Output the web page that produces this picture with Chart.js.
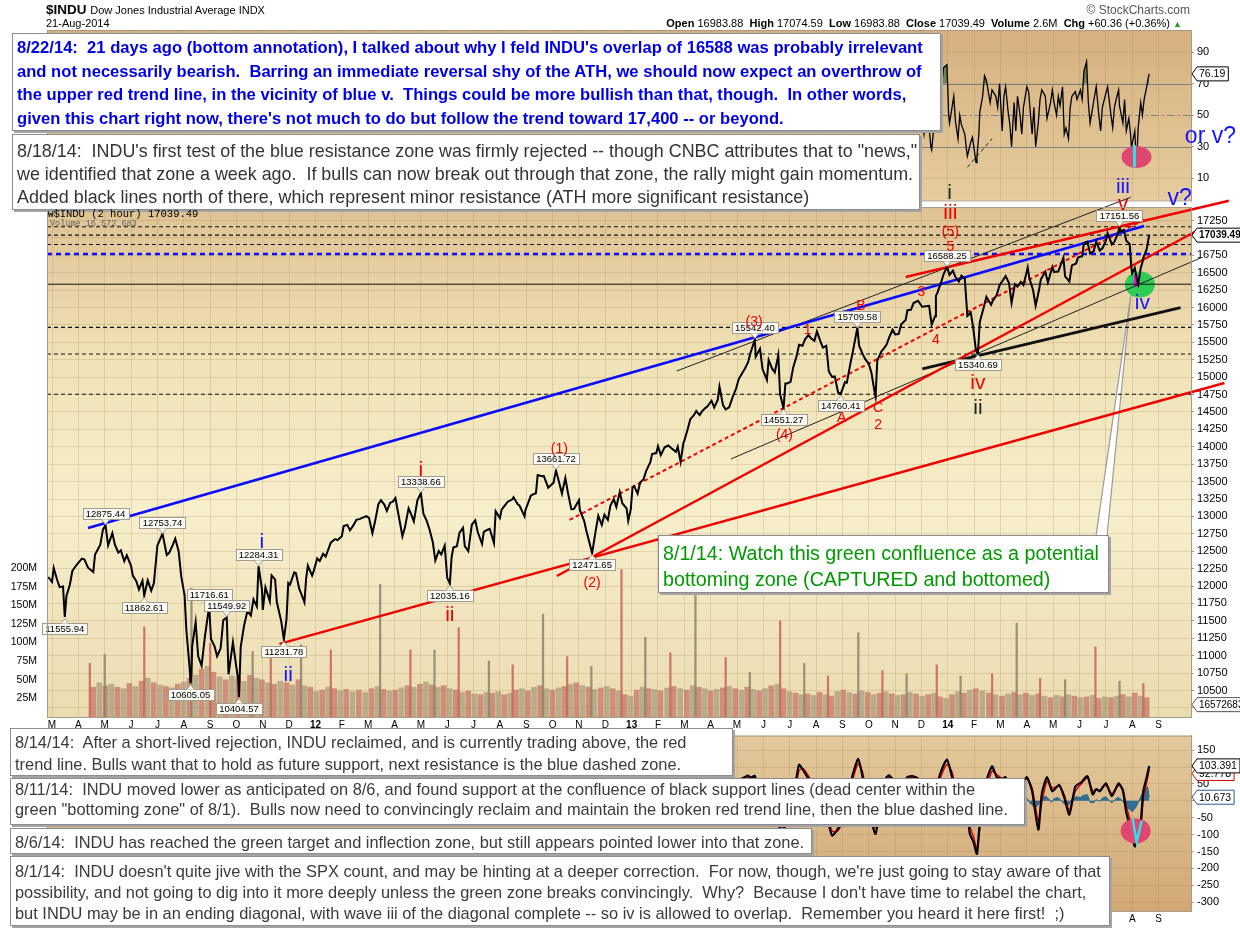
<!DOCTYPE html>
<html>
<head>
<meta charset="utf-8">
<title>$INDU Dow Jones Industrial Average</title>
<script src="https://cdn.jsdelivr.net/npm/chart.js@4.4.1/dist/chart.umd.min.js"></script>
<style>
html,body{margin:0;padding:0;background:#fff;}
body{width:1240px;height:928px;position:relative;overflow:hidden;font-family:"Liberation Sans",Arial,sans-serif;color:#000;}
canvas{position:absolute;left:0;}
#rsi{top:0;} #macd{top:726px;} #main{top:0;}
.t{position:absolute;white-space:pre;}
.box{position:absolute;background:#fff;border:1px solid #8c8c8c;box-shadow:2px 2px 0 #a4a4a4;white-space:pre;box-sizing:border-box;padding-left:4px;overflow:visible;}
.small{font-size:16.4px;color:#3a3a3a;}
</style>
</head>
<body>
<canvas id="rsi" width="1240" height="210"></canvas>
<canvas id="macd" width="1240" height="202"></canvas>
<canvas id="main" width="1240" height="740"></canvas>

<div class="t" style="left:46px;top:2px;font-size:13.5px;font-weight:bold;">$INDU <span style="font-size:11px;font-weight:normal;">Dow Jones Industrial Average INDX</span></div>
<div class="t" style="left:46px;top:17px;font-size:11px;">21-Aug-2014</div>
<div class="t" style="right:50px;top:3px;font-size:12px;color:#555;">© StockCharts.com</div>
<div class="t" style="right:58px;top:17px;font-size:11px;"><b>Open</b> 16983.88  <b>High</b> 17074.59  <b>Low</b> 16983.88  <b>Close</b> 17039.49  <b>Volume</b> 2.6M  <b>Chg</b> +60.36 (+0.36%) <span style="color:#2a9a2a;font-size:9px;">▲</span></div>

<div class="box" style="left:12px;top:33px;width:929px;height:98px;padding-top:2px;line-height:23.5px;font-size:16.6px;font-weight:bold;color:#0000e6;">8/22/14:  21 days ago (bottom annotation), I talked about why I feld INDU's overlap of 16588 was probably irrelevant
and not necessarily bearish.  Barring an immediate reversal shy of the ATH, we should now expect an overthrow of
the upper red trend line, in the vicinity of blue v.  Things could be more bullish than that, though.  In other words,
given this chart right now, there's not much to do but follow the trend toward 17,400 -- or beyond.</div>

<div class="box" style="left:12px;top:134px;width:908px;height:76px;padding-top:5px;line-height:23px;font-size:17.9px;color:#333;">8/18/14:  INDU's first test of the blue resistance zone was firmly rejected -- though CNBC attributes that to "news,"
we identified that zone a week ago.  If bulls can now break out through that zone, the rally might gain momentum.
Added black lines north of there, which represent minor resistance (ATH more significant resistance)</div>

<div class="t" style="left:48px;top:208px;font-family:'Liberation Mono',monospace;font-size:10.5px;"><span style="font-size:9px;">₩</span>$INDU (2 hour) 17039.49</div>
<div class="t" style="left:50px;top:219px;font-family:'Liberation Mono',monospace;font-size:8.5px;color:#666;">Volume 16,572,683</div>

<div class="box" style="left:658px;top:535px;width:451px;height:58px;padding-top:4px;line-height:26px;font-size:19.7px;color:#009a00;">8/1/14: Watch this green confluence as a potential
bottoming zone (CAPTURED and bottomed)</div>

<div class="box small" style="left:10px;top:728px;width:723px;height:48px;padding-top:2px;line-height:22px;">8/14/14:  After a short-lived rejection, INDU reclaimed, and is currently trading above, the red
trend line. Bulls want that to hold as future support, next resistance is the blue dashed zone.</div>

<div class="box small" style="left:10px;top:778px;width:1015px;height:47px;padding-top:0px;line-height:20px;">8/11/14:  INDU moved lower as anticipated on 8/6, and found support at the confluence of black support lines (dead center within the
green "bottoming zone" of 8/1).  Bulls now need to convincingly reclaim and maintain the broken red trend line, then the blue dashed line.</div>

<div class="box small" style="left:10px;top:828px;width:802px;height:26px;padding-top:3px;line-height:20px;">8/6/14:  INDU has reached the green target and inflection zone, but still appears pointed lower into that zone.</div>

<div class="box small" style="left:10px;top:856px;width:1100px;height:70px;padding-top:3.5px;line-height:21px;">8/1/14:  INDU doesn't quite jive with the SPX count, and may be hinting at a deeper correction.  For now, though, we're just going to stay aware of that
possibility, and not going to dig into it more deeply unless the green zone breaks convincingly.  Why?  Because I don't have time to relabel the chart,
but INDU may be in an ending diagonal, with wave iii of the diagonal complete -- so iv is allowed to overlap.  Remember you heard it here first!  ;)</div>

<script>
// ---------------- DATA ----------------
const monthLetters = ['J','F','M','A','M','J','J','A','S','O','N','D'];
const yearLabels = ['11','12','13','14'];
const priceTicks = [10250,10500,10750,11000,11250,11500,11750,12000,12250,12500,12750,13000,13250,13500,13750,14000,14250,14500,14750,15000,15250,15500,15750,16000,16250,16500,16750,17000,17250];
const volumeTicks = [25,50,75,100,125,150,175,200];
const rsiTicks = [10,30,50,70,90];
const macdTicks = [-300,-250,-200,-150,-100,-50,0,50,100,150];

// Dow Jones 2-hour chart (date, price)
const priceSeries = [
['2011-02-25',12130],['2011-03-01',12058],['2011-03-03',12258],['2011-03-07',12090],['2011-03-10',11984],['2011-03-14',11993],['2011-03-16',11556],['2011-03-18',11858],['2011-03-22',12018],['2011-03-25',12220],['2011-03-31',12320],
['2011-04-05',12393],['2011-04-08',12380],['2011-04-12',12263],['2011-04-18',12201],['2011-04-20',12453],['2011-04-26',12595],['2011-04-29',12810],
['2011-05-02',12876],['2011-05-05',12584],['2011-05-10',12760],['2011-05-13',12595],['2011-05-17',12479],['2011-05-20',12512],['2011-05-24',12356],['2011-05-27',12441],
['2011-06-01',12290],['2011-06-03',12151],['2011-06-07',12070],['2011-06-10',11951],['2011-06-14',12076],['2011-06-16',11863],['2011-06-20',12080],['2011-06-24',11934],['2011-06-27',12043],
['2011-07-01',12582],['2011-07-07',12754],['2011-07-12',12446],['2011-07-15',12480],['2011-07-19',12587],['2011-07-22',12681],['2011-07-26',12501],['2011-07-29',12143],
['2011-08-02',11866],['2011-08-04',11383],['2011-08-08',10810],['2011-08-09',10605],['2011-08-10',10719],['2011-08-11',11143],['2011-08-15',11482],['2011-08-18',10990],['2011-08-22',10855],['2011-08-26',11284],['2011-08-31',11717],
['2011-09-02',11240],['2011-09-06',11139],['2011-09-09',10992],['2011-09-13',11105],['2011-09-16',11509],['2011-09-20',11550],['2011-09-22',10733],['2011-09-27',11190],['2011-09-30',10913],
['2011-10-03',10655],['2011-10-04',10405],['2011-10-06',11123],['2011-10-10',11434],['2011-10-14',11644],['2011-10-18',11577],['2011-10-21',11808],['2011-10-25',11706],['2011-10-27',12284],['2011-10-31',11955],
['2011-11-01',11658],['2011-11-04',11983],['2011-11-09',11780],['2011-11-11',12153],['2011-11-15',12096],['2011-11-17',11770],['2011-11-22',11493],['2011-11-25',11232],['2011-11-28',11523],['2011-11-30',12045],
['2011-12-02',12019],['2011-12-07',12196],['2011-12-09',12184],['2011-12-13',11955],['2011-12-16',11866],['2011-12-19',11766],['2011-12-21',12107],['2011-12-23',12294],['2011-12-28',12151],['2011-12-30',12218],
['2012-01-03',12397],['2012-01-06',12360],['2012-01-10',12462],['2012-01-13',12422],['2012-01-19',12623],['2012-01-24',12675],['2012-01-27',12660],
['2012-02-01',12716],['2012-02-03',12862],['2012-02-07',12878],['2012-02-10',12801],['2012-02-14',12878],['2012-02-17',12950],['2012-02-21',12965],['2012-02-28',13005],
['2012-03-02',12978],['2012-03-06',12759],['2012-03-09',12922],['2012-03-13',13177],['2012-03-16',13232],['2012-03-20',13170],['2012-03-23',13080],['2012-03-27',13197],['2012-03-30',13212],
['2012-04-02',13264],['2012-04-05',13060],['2012-04-10',12715],['2012-04-13',12850],['2012-04-17',13115],['2012-04-20',13029],['2012-04-23',12928],['2012-04-27',13228],
['2012-05-01',13339],['2012-05-04',13038],['2012-05-08',12932],['2012-05-11',12820],['2012-05-15',12632],['2012-05-18',12369],['2012-05-22',12502],['2012-05-25',12454],['2012-05-29',12580],
['2012-06-01',12118],['2012-06-04',12035],['2012-06-06',12414],['2012-06-08',12554],['2012-06-12',12573],['2012-06-15',12767],['2012-06-19',12837],['2012-06-21',12574],['2012-06-25',12502],['2012-06-29',12880],
['2012-07-03',12943],['2012-07-06',12772],['2012-07-11',12605],['2012-07-13',12777],['2012-07-17',12805],['2012-07-20',12822],['2012-07-25',12617],['2012-07-27',13075],
['2012-08-01',12976],['2012-08-03',13096],['2012-08-08',13175],['2012-08-10',13207],['2012-08-16',13250],['2012-08-17',13275],['2012-08-22',13173],['2012-08-24',13157],['2012-08-30',13001],['2012-08-31',13090],
['2012-09-06',13292],['2012-09-07',13306],['2012-09-12',13333],['2012-09-14',13593],['2012-09-19',13577],['2012-09-21',13579],['2012-09-26',13413],['2012-09-28',13437],
['2012-10-02',13482],['2012-10-05',13662],['2012-10-09',13474],['2012-10-12',13328],['2012-10-16',13551],['2012-10-19',13343],['2012-10-23',13103],['2012-10-26',13107],
['2012-11-01',13232],['2012-11-02',13093],['2012-11-07',12932],['2012-11-09',12815],['2012-11-14',12570],['2012-11-16',12472],['2012-11-20',12788],['2012-11-23',13010],['2012-11-27',12878],['2012-11-30',13025],
['2012-12-04',12951],['2012-12-07',13155],['2012-12-11',13248],['2012-12-14',13135],['2012-12-18',13350],['2012-12-21',13190],['2012-12-26',13114],['2012-12-28',12938],['2012-12-31',13104],
['2013-01-02',13412],['2013-01-04',13435],['2013-01-08',13328],['2013-01-11',13488],['2013-01-15',13534],['2013-01-18',13650],['2013-01-23',13779],['2013-01-25',13895],['2013-01-30',13910],
['2013-02-01',14009],['2013-02-04',13880],['2013-02-08',13992],['2013-02-12',14018],['2013-02-15',13981],['2013-02-20',13927],['2013-02-22',14000],['2013-02-25',13784],['2013-02-28',14054],
['2013-03-01',14089],['2013-03-05',14254],['2013-03-08',14397],['2013-03-12',14450],['2013-03-15',14514],['2013-03-19',14455],['2013-03-22',14512],['2013-03-26',14559],['2013-03-28',14578],
['2013-04-02',14662],['2013-04-05',14565],['2013-04-09',14673],['2013-04-11',14865],['2013-04-15',14599],['2013-04-18',14537],['2013-04-22',14567],['2013-04-26',14712],['2013-04-30',14840],
['2013-05-03',14973],['2013-05-07',15056],['2013-05-10',15118],['2013-05-14',15215],['2013-05-17',15354],['2013-05-22',15542],['2013-05-23',15294],['2013-05-28',15409],['2013-05-31',15116],
['2013-06-05',14960],['2013-06-07',15248],['2013-06-11',15122],['2013-06-14',15070],['2013-06-18',15318],['2013-06-20',14758],['2013-06-24',14551],['2013-06-26',14910],['2013-06-28',14910],
['2013-07-02',14932],['2013-07-05',15136],['2013-07-09',15300],['2013-07-12',15464],['2013-07-16',15451],['2013-07-19',15543],['2013-07-23',15604],['2013-07-26',15559],['2013-07-30',15521],
['2013-08-02',15658],['2013-08-06',15518],['2013-08-09',15425],['2013-08-13',15451],['2013-08-16',15081],['2013-08-20',15002],['2013-08-23',15010],['2013-08-27',14776],['2013-08-30',14760],
['2013-09-04',14930],['2013-09-06',14922],['2013-09-10',15191],['2013-09-13',15376],['2013-09-18',15710],['2013-09-20',15452],['2013-09-24',15334],['2013-09-27',15258],
['2013-10-01',15191],['2013-10-04',15072],['2013-10-08',14776],['2013-10-09',14719],['2013-10-11',15237],['2013-10-16',15374],['2013-10-18',15399],['2013-10-22',15468],['2013-10-25',15570],['2013-10-29',15680],
['2013-11-01',15615],['2013-11-05',15618],['2013-11-08',15761],['2013-11-13',15821],['2013-11-15',15961],['2013-11-19',15967],['2013-11-22',16064],['2013-11-27',16097],
['2013-12-02',16008],['2013-12-06',16020],['2013-12-10',16025],['2013-12-13',15755],['2013-12-17',15875],['2013-12-18',16167],['2013-12-20',16221],['2013-12-24',16357],['2013-12-27',16478],['2013-12-31',16588],
['2014-01-03',16469],['2014-01-07',16530],['2014-01-10',16437],['2014-01-14',16374],['2014-01-17',16458],['2014-01-21',16414],['2014-01-24',15879],['2014-01-28',15929],['2014-01-31',15698],
['2014-02-03',15372],['2014-02-05',15341],['2014-02-07',15794],['2014-02-11',15994],['2014-02-14',16154],['2014-02-19',16040],['2014-02-21',16103],['2014-02-25',16179],['2014-02-28',16321],
['2014-03-04',16395],['2014-03-07',16452],['2014-03-11',16351],['2014-03-14',16065],['2014-03-18',16336],['2014-03-21',16302],['2014-03-25',16368],['2014-03-28',16323],
['2014-04-02',16573],['2014-04-04',16412],['2014-04-08',16256],['2014-04-11',16027],['2014-04-15',16262],['2014-04-17',16408],['2014-04-22',16514],['2014-04-25',16361],['2014-04-30',16581],
['2014-05-02',16512],['2014-05-07',16518],['2014-05-09',16583],['2014-05-13',16715],['2014-05-15',16447],['2014-05-20',16374],['2014-05-23',16606],['2014-05-28',16633],['2014-05-30',16717],
['2014-06-04',16737],['2014-06-06',16924],['2014-06-10',16946],['2014-06-13',16776],['2014-06-17',16808],['2014-06-20',16947],['2014-06-24',16818],['2014-06-27',16851],
['2014-07-01',16956],['2014-07-03',17068],['2014-07-08',16906],['2014-07-11',16944],['2014-07-15',17060],['2014-07-17',17152],['2014-07-18',17100],['2014-07-22',17113],['2014-07-25',16960],['2014-07-29',16912],['2014-07-31',16563],
['2014-08-01',16493],['2014-08-04',16569],['2014-08-07',16368],['2014-08-08',16333],['2014-08-11',16570],['2014-08-13',16651],['2014-08-14',16713],['2014-08-18',16839],['2014-08-20',16979],['2014-08-21',17039.49]
];

// Labelled extremes (date, value, kind)
const priceTags = [
['2011-03-16',11555.94,'low'],['2011-05-02',12875.44,'high'],['2011-06-16',11862.61,'low'],['2011-07-07',12753.74,'high'],
['2011-08-09',10605.05,'low'],['2011-08-31',11716.61,'high'],['2011-09-20',11549.92,'high'],['2011-10-04',10404.57,'low'],
['2011-10-27',12284.31,'high'],['2011-11-25',11231.78,'low'],['2012-05-01',13338.66,'high'],['2012-06-04',12035.16,'low'],
['2012-10-05',13661.72,'high'],['2012-11-16',12471.65,'low'],['2013-05-22',15542.40,'high'],['2013-06-24',14551.27,'low'],
['2013-09-18',15709.58,'high'],['2013-08-30',14760.41,'low'],['2013-12-31',16588.25,'high'],['2014-02-05',15340.69,'low'],
['2014-07-17',17151.56,'high']
];

// Wave count labels (text, date, value, colour key, size key)
const waveLabels = [
['i','2011-10-31',12633,'blue','L'],['ii','2011-11-30',10723,'blue','L'],
['i','2012-05-01',13667,'red','L'],['ii','2012-06-04',11584,'red','L'],
['(1)','2012-10-09',13968,'red','S'],['(2)','2012-11-16',12044,'red','S'],
['(3)','2013-05-21',15792,'red','S'],['(4)','2013-06-25',14170,'red','S'],
['1','2013-07-22',15677,'red','S'],['A','2013-08-31',14414,'red','S'],['B','2013-09-22',16022,'red','S'],
['C','2013-10-12',14557,'red','S'],['2','2013-10-12',14313,'red','S'],
['3','2013-12-01',16223,'red','S'],['4','2013-12-18',15534,'red','S'],
['5','2014-01-04',16869,'red','S'],['(5)','2014-01-04',17085,'red','S'],['iii','2014-01-04',17358,'red','L'],['i','2014-01-03',17645,'black','L'],
['iv','2014-02-05',14916,'red','L'],['ii','2014-02-05',14557,'black','L'],
['iii','2014-07-21',17731,'blue','L'],['v','2014-07-21',17487,'red','L'],['iv','2014-08-13',16065,'blue','L'],
['v?','2014-09-25',17558,'blue','XL'],['or v?','2014-10-31',18449,'blue','XL']
];

// Trend lines (endpoints)
const blueTrend = [['2011-04-12',12834],['2014-08-15',17171]];
const redTrendLow = [['2011-11-20',11168],['2014-11-16',14916]];
const redTrendMid = [['2012-10-06',12144],['2014-10-21',17143]];
const redTrendUpper = [['2013-11-13',16439],['2014-11-21',17534]];
const redDashedTrend = [['2012-10-21',12950],['2014-08-16',17270]];
const blackThinUpper = [['2013-02-21',15089],['2014-07-30',17583]];
const blackThinLower = [['2013-04-24',13825],['2014-10-21',16720]];
const blackThick = [['2013-12-02',15118],['2014-09-26',15999]];
const dashedLevels = [17160,17040,16905,15715,15333,14755];
const blueDashedLevel = 16770;
const solidLevel = 16335;
const greenZone = ['2014-08-10',16330];

// Volume (millions, weekly from 2011-04-15)
const volumeStart = '2011-04-15';
const volumeM = [
40,46,42,44,40,38,45,41,48,52,46,43,41,39,44,47,52,56,64,68,60,54,50,55,52,48,56,52,50,46,44,48,46,43,50,42,40,34,
36,40,38,35,37,34,36,33,38,41,37,35,36,39,42,40,44,47,43,40,42,38,36,33,35,31,30,33,32,34,30,32,36,38,35,40,42,38,36,39,41,44,46,42,40,37,39,41,38,35,30,28,
36,40,38,37,35,39,41,38,36,42,40,38,35,37,39,41,38,36,40,37,35,38,42,44,38,34,32,30,31,29,33,30,28,34,36,33,31,35,33,30,32,34,31,29,30,33,31,28,30,32,27,25,
30,34,32,36,38,35,32,30,28,31,33,30,32,29,31,28,26,29,27,30,28,26,27,29,25,27,26,28,30,27,32,28,26
];
const volumeSpikes = [
['2011-04-15',72],['2011-05-02',84],['2011-06-17',121],['2011-08-11',173],['2011-09-02',99],['2011-10-21',88],['2011-11-11',80],['2011-12-16',97],
['2012-01-20',90],['2012-03-16',178],['2012-04-20',90],['2012-05-18',90],['2012-06-15',120],['2012-07-20',75],['2012-08-17',70],['2012-09-21',138],['2012-10-19',81],['2012-11-16',68],['2012-12-21',198],
['2013-01-18',107],['2013-02-15',86],['2013-03-15',171],['2013-04-19',80],['2013-05-17',60],['2013-06-21',129],['2013-07-19',72],['2013-08-16',55],['2013-09-20',113],['2013-10-18',62],['2013-11-15',58],['2013-12-20',70],
['2014-01-17',55],['2014-02-21',58],['2014-03-21',126],['2014-04-17',52],['2014-05-16',50],['2014-06-20',94],['2014-07-18',48],['2014-08-15',45]
];
const lastVolume = 16572683;
const lastClose = 17039.49;

// RSI(14)
const rsiSeries = [
['2013-11-25',55],['2013-11-27',62],['2013-12-02',45],['2013-12-04',38],['2013-12-06',50],['2013-12-10',42],['2013-12-12',30],['2013-12-13',28],['2013-12-16',45],['2013-12-18',62],['2013-12-20',72],['2013-12-23',65],['2013-12-26',75],['2013-12-27',80],['2013-12-31',82],
['2014-01-02',50],['2014-01-03',45],['2014-01-06',55],['2014-01-08',62],['2014-01-10',46],['2014-01-13',35],['2014-01-15',50],['2014-01-17',44],['2014-01-21',38],['2014-01-23',28],['2014-01-24',24],['2014-01-28',33],['2014-01-30',36],
['2014-02-03',20],['2014-02-04',24],['2014-02-06',38],['2014-02-07',52],['2014-02-10',62],['2014-02-12',75],['2014-02-14',72],['2014-02-18',58],['2014-02-20',66],['2014-02-24',62],['2014-02-26',55],['2014-02-28',70],
['2014-03-03',40],['2014-03-05',62],['2014-03-07',68],['2014-03-10',52],['2014-03-12',44],['2014-03-14',30],['2014-03-17',58],['2014-03-19',40],['2014-03-21',62],['2014-03-24',50],['2014-03-26',38],['2014-03-28',55],
['2014-04-01',68],['2014-04-03',65],['2014-04-07',38],['2014-04-09',55],['2014-04-11',30],['2014-04-14',45],['2014-04-16',60],['2014-04-18',66],['2014-04-22',62],['2014-04-24',48],['2014-04-28',58],['2014-04-30',66],
['2014-05-02',58],['2014-05-05',50],['2014-05-07',62],['2014-05-09',56],['2014-05-12',68],['2014-05-14',38],['2014-05-16',42],['2014-05-19',35],['2014-05-21',55],['2014-05-23',62],['2014-05-27',65],['2014-05-29',60],
['2014-06-02',66],['2014-06-04',60],['2014-06-06',78],['2014-06-09',84],['2014-06-11',58],['2014-06-13',45],['2014-06-16',55],['2014-06-18',62],['2014-06-20',68],['2014-06-23',50],['2014-06-25',40],['2014-06-27',55],
['2014-07-01',64],['2014-07-03',68],['2014-07-07',50],['2014-07-09',42],['2014-07-11',55],['2014-07-14',62],['2014-07-16',66],['2014-07-17',56],['2014-07-21',45],['2014-07-23',60],['2014-07-25',40],['2014-07-28',48],['2014-07-30',38],['2014-07-31',30],
['2014-08-01',32],['2014-08-04',40],['2014-08-05',28],['2014-08-07',30],['2014-08-08',42],['2014-08-11',58],['2014-08-13',50],['2014-08-15',60],['2014-08-18',68],['2014-08-20',74],['2014-08-21',76.19]
];
const rsiTrend = [['2014-01-24',17],['2014-02-20',35]];
const rsiLevels = [70,50,30];
const rsiMark = ['2014-08-06',23.5];
const lastRsi = 76.19;

// MACD panel
const macdSeries = [
['2013-04-19',20],['2013-04-26',45],['2013-05-03',62],['2013-05-10',70],['2013-05-14',75],['2013-05-17',68],['2013-05-22',74],['2013-05-24',40],['2013-05-31',-10],
['2013-06-07',-30],['2013-06-11',-55],['2013-06-14',-60],['2013-06-20',-80],['2013-06-24',-88],['2013-06-28',-40],['2013-07-03',20],['2013-07-09',70],['2013-07-12',107],
['2013-07-17',90],['2013-07-22',70],['2013-07-26',55],['2013-08-02',60],['2013-08-07',10],['2013-08-13',-30],['2013-08-16',-70],['2013-08-20',-103],['2013-08-26',-85],
['2013-08-30',-70],['2013-09-05',-20],['2013-09-10',45],['2013-09-13',80],['2013-09-19',124],['2013-09-24',70],['2013-09-27',20],['2013-10-02',-40],['2013-10-09',-98],
['2013-10-14',-20],['2013-10-17',40],['2013-10-22',70],['2013-10-25',75],['2013-10-30',60],['2013-11-05',35],['2013-11-11',55],['2013-11-15',70],['2013-11-21',73],
['2013-11-27',65],['2013-12-03',30],['2013-12-09',15],['2013-12-13',-20],['2013-12-18',30],['2013-12-23',80],['2013-12-31',122],['2014-01-06',70],['2014-01-10',30],
['2014-01-15',20],['2014-01-22',-10],['2014-01-27',-98],['2014-01-31',-120],['2014-02-04',-157],['2014-02-07',-60],['2014-02-12',40],['2014-02-20',102],['2014-02-25',70],
['2014-03-03',65],['2014-03-07',70],['2014-03-14',-10],['2014-03-19',60],['2014-03-24',45],['2014-04-01',70],['2014-04-07',28],['2014-04-14',-86],['2014-04-18',20],
['2014-04-24',70],['2014-04-30',28],['2014-05-08',47],['2014-05-14',10],['2014-05-20',-41],['2014-05-27',42],['2014-06-03',55],['2014-06-10',73],['2014-06-16',19],
['2014-06-20',35],['2014-06-24',28],['2014-07-01',52],['2014-07-08',14],['2014-07-16',52],['2014-07-21',30],['2014-07-25',-35],['2014-07-31',-90],['2014-08-04',-135],
['2014-08-07',-110],['2014-08-11',-63],['2014-08-14',28],['2014-08-18',70],['2014-08-21',103.391]
];
const signalSeries = [
['2013-04-19',10],['2013-04-26',30],['2013-05-03',50],['2013-05-10',62],['2013-05-14',70],['2013-05-17',70],['2013-05-22',70],['2013-05-24',55],['2013-05-31',15],
['2013-06-07',-15],['2013-06-11',-40],['2013-06-14',-52],['2013-06-20',-70],['2013-06-24',-80],['2013-06-28',-60],['2013-07-03',-5],['2013-07-09',50],['2013-07-12',90],
['2013-07-17',95],['2013-07-22',78],['2013-07-26',62],['2013-08-02',58],['2013-08-07',25],['2013-08-13',-15],['2013-08-16',-55],['2013-08-20',-90],['2013-08-26',-90],
['2013-08-30',-75],['2013-09-05',-35],['2013-09-10',25],['2013-09-13',65],['2013-09-19',110],['2013-09-24',85],['2013-09-27',40],['2013-10-02',-20],['2013-10-09',-80],
['2013-10-14',-45],['2013-10-17',20],['2013-10-22',58],['2013-10-25',70],['2013-10-30',65],['2013-11-05',45],['2013-11-11',50],['2013-11-15',64],['2013-11-21',70],
['2013-11-27',68],['2013-12-03',42],['2013-12-09',22],['2013-12-13',-5],['2013-12-18',15],['2013-12-23',65],['2013-12-31',108],['2014-01-06',85],['2014-01-10',45],
['2014-01-15',25],['2014-01-22',0],['2014-01-27',-75],['2014-01-31',-105],['2014-02-04',-140],['2014-02-07',-85],['2014-02-12',15],['2014-02-20',88],['2014-02-25',78],
['2014-03-03',66],['2014-03-07',68],['2014-03-14',10],['2014-03-19',45],['2014-03-24',48],['2014-04-01',64],['2014-04-07',38],['2014-04-14',-60],['2014-04-18',-5],
['2014-04-24',58],['2014-04-30',38],['2014-05-08',44],['2014-05-14',18],['2014-05-20',-28],['2014-05-27',28],['2014-06-03',50],['2014-06-10',68],['2014-06-16',30],
['2014-06-20',32],['2014-06-24',30],['2014-07-01',46],['2014-07-08',22],['2014-07-16',45],['2014-07-21',35],['2014-07-25',-15],['2014-07-31',-70],['2014-08-04',-120],
['2014-08-07',-115],['2014-08-11',-80],['2014-08-14',5],['2014-08-18',55],['2014-08-21',92.778]
];
const histSeries = [
['2014-03-24',5],['2014-03-28',12],['2014-04-01',8],['2014-04-04',-5],['2014-04-08',-15],['2014-04-11',-20],['2014-04-15',-8],['2014-04-18',6],['2014-04-22',14],['2014-04-25',8],
['2014-04-29',-4],['2014-05-02',6],['2014-05-06',10],['2014-05-09',4],['2014-05-13',-6],['2014-05-16',-14],['2014-05-20',-10],['2014-05-23',6],['2014-05-28',12],['2014-06-02',10],
['2014-06-05',16],['2014-06-10',18],['2014-06-13',-4],['2014-06-17',-6],['2014-06-20',4],['2014-06-24',-2],['2014-06-27',8],['2014-07-01',12],['2014-07-04',4],['2014-07-08',-6],
['2014-07-11',2],['2014-07-15',10],['2014-07-18',6],['2014-07-22',-4],['2014-07-25',-18],['2014-07-29',-25],['2014-08-01',-32],['2014-08-05',-20],['2014-08-08',-5],['2014-08-12',18],
['2014-08-15',32],['2014-08-19',42],['2014-08-21',10.673]
];
const macdMark = ['2014-08-05',-89];
const lastMacd = 103.391, lastSignal = 92.778, lastHist = 10.673;

// ---------------- HELPERS ----------------
const FONT = '"Liberation Sans", Arial, sans-serif';
Chart.defaults.font.family = FONT;
const X_MIN = 1.81, X_MAX = 45.23;
function toT(s){ const p=s.split('-').map(Number); const dim=new Date(p[0],p[1],0).getDate(); return (p[0]-2011)*12+(p[1]-1)+(p[2]-1)/dim; }
function pts(arr){ return arr.map(a=>({x:toT(a[0]), y:a[1]})); }
function monthLabel(v){ const i=Math.round(v); if(i%12===0) return yearLabels[i/12]; return monthLetters[((i%12)+12)%12]; }
const monthTicks = []; for(let m=2;m<=44;m++) monthTicks.push(m);
const GRID = 'rgba(150,120,70,0.20)';
const RED='#f00000', BLUE='#0a0aff';
const waveColors = {red:'#f00000', blue:'#1414ff', black:'#222'};
const waveSizes = {S:14, L:21, XL:23};

function xScaleCfg(showTicks, h){
  return {type:'linear', min:X_MIN, max:X_MAX, offset:false, position:'bottom',
    afterBuildTicks:s=>{ s.ticks = monthTicks.map(v=>({value:v})); },
    afterFit:s=>{ s.height=h; },
    ticks:{display:showTicks, autoSkip:false, maxRotation:0, minRotation:0, padding:2, color:'#000',
      font:c=>({family:FONT, size:10, weight:(c.tick && Math.round(c.tick.value)%12===0)?'bold':'normal'}),
      callback:v=>monthLabel(v)},
    grid:{color:GRID, drawTicks:false, offset:false}, border:{display:false}};
}
function lineDS(data, color, width, dash, order, clip){
  return {type:'line', data:pts(data), borderColor:color, borderWidth:width, borderDash:dash||[], pointRadius:0, tension:0, fill:false, order:order, clip:clip===undefined?false:clip};
}
function hLine(v, color, width, dash, order){
  return {type:'line', data:[{x:X_MIN,y:v},{x:X_MAX,y:v}], borderColor:color, borderWidth:width, borderDash:dash||[], pointRadius:0, fill:false, order:order};
}
function valueBox(ctx, x, y, text, border, bold, size){
  ctx.save();
  ctx.font=(bold?'bold ':'')+(size||10.5)+'px '+FONT;
  const w=ctx.measureText(text).width+5, h=14;
  ctx.beginPath(); ctx.moveTo(x,y); ctx.lineTo(x+5,y-h/2); ctx.lineTo(x+5+w,y-h/2); ctx.lineTo(x+5+w,y+h/2); ctx.lineTo(x+5,y+h/2); ctx.closePath();
  ctx.fillStyle='#fff'; ctx.fill(); ctx.lineWidth=1; ctx.strokeStyle=border; ctx.stroke();
  ctx.fillStyle='#000'; ctx.textAlign='left'; ctx.textBaseline='middle'; ctx.fillText(text, x+7, y+0.5);
  ctx.restore();
}
function panelBG(chart, stops){
  const {ctx, chartArea:a}=chart;
  const g=ctx.createLinearGradient(0,a.top,0,a.bottom);
  stops.forEach(s=>g.addColorStop(s[0],s[1]));
  ctx.save(); ctx.fillStyle=g; ctx.fillRect(a.left,a.top,a.right-a.left,a.bottom-a.top); ctx.restore();
}
function panelBorder(chart){
  const {ctx, chartArea:a}=chart;
  ctx.save(); ctx.strokeStyle='#a89a86'; ctx.lineWidth=1; ctx.strokeRect(a.left+0.5,a.top+0.5,a.right-a.left,a.bottom-a.top); ctx.restore();
}

// ---------------- MAIN PRICE PANEL ----------------
const volData = volumeM.map((v,i)=>{ const d=new Date(volumeStart+'T12:00:00'); d.setDate(d.getDate()+7*i); const s=d.getFullYear()+'-'+String(d.getMonth()+1).padStart(2,'0')+'-'+String(d.getDate()).padStart(2,'0'); return {x:toT(s), y:v}; });

const mainDeco = {
  id:'mainDeco',
  beforeDraw(chart){ panelBG(chart, [[0,'#dec294'],[0.3,'#f0e2b6'],[0.6,'#f7eecb'],[1,'#ebdbb0']]); },
  beforeDatasetsDraw(chart){
    const {ctx, scales:{x,y}}=chart;
    const cx=x.getPixelForValue(toT(greenZone[0])), cy=y.getPixelForValue(greenZone[1]);
    ctx.save();
    ctx.beginPath(); ctx.moveTo(1096,536); ctx.lineTo(1107,536); ctx.lineTo(cx-9,cy+10); ctx.closePath();
    ctx.fillStyle='#fff'; ctx.fill(); ctx.strokeStyle='#9a9a9a'; ctx.lineWidth=1.2; ctx.stroke();
    ctx.beginPath(); ctx.ellipse(cx,cy,15,13,0,0,Math.PI*2); ctx.fillStyle='rgb(45,205,85)'; ctx.fill();
    ctx.fillStyle='#ff00ff'; ctx.fillRect(cx-6,cy-10,4,12);
    ctx.restore();
  },
  afterDatasetsDraw(chart){
    const {ctx, scales:{x,y}}=chart;
    ctx.save();
    priceTags.forEach(p=>{
      const px=x.getPixelForValue(toT(p[0])), py=y.getPixelForValue(p[1]);
      const hi=p[2]==='high', text=p[1].toFixed(2);
      ctx.font='9.5px '+FONT;
      const w=Math.round(ctx.measureText(text).width)+6, h=11;
      const top=hi? py-6-h : py+6;
      const l=Math.round(px-w/2)+0.5, t=Math.round(top)+0.5;
      ctx.fillStyle='#fbfaf3'; ctx.strokeStyle='#a39b8f'; ctx.lineWidth=1;
      ctx.fillRect(l,t,w,h); ctx.strokeRect(l,t,w,h);
      ctx.beginPath();
      if(hi){ ctx.moveTo(px-4,t+h); ctx.lineTo(px,t+h+5); ctx.lineTo(px+4,t+h); }
      else { ctx.moveTo(px-4,t); ctx.lineTo(px,t-5); ctx.lineTo(px+4,t); }
      ctx.fillStyle='#fbfaf3'; ctx.fill(); ctx.stroke();
      ctx.fillStyle='#000'; ctx.textAlign='center'; ctx.textBaseline='middle';
      ctx.fillText(text, px, t+h/2+0.5);
    });
    waveLabels.forEach(w=>{
      ctx.font=waveSizes[w[4]]+'px '+FONT;
      ctx.fillStyle=waveColors[w[3]]; ctx.textAlign='center'; ctx.textBaseline='middle';
      ctx.fillText(w[0], x.getPixelForValue(toT(w[1])), y.getPixelForValue(w[2]));
    });
    ctx.restore();
  },
  afterDraw(chart){
    panelBorder(chart);
    const {ctx, chartArea:a, scales:{y, yv}}=chart;
    valueBox(ctx, a.right+1, y.getPixelForValue(lastClose), lastClose.toFixed(2), '#000', true, 10);
    valueBox(ctx, a.right+1, yv.getPixelForValue(lastVolume/1e6), String(lastVolume), '#555', false, 10);
  }
};

const volMax = 200*510/149;
new Chart(document.getElementById('main'), {
  type:'line',
  data:{datasets:[
    {type:'bar', yAxisID:'yv', data:volData, barThickness:5, backgroundColor:c=>c.dataIndex%2?'rgba(150,140,112,0.6)':'rgba(190,96,84,0.62)', order:20},
    {type:'bar', yAxisID:'yv', data:pts(volumeSpikes), barThickness:1.6, backgroundColor:c=>c.dataIndex%2?'rgba(140,130,110,0.85)':'rgba(200,100,90,0.85)', order:19},
    ...dashedLevels.map(v=>hLine(v,'#111',1.1,[4,3],15)),
    hLine(blueDashedLevel, BLUE, 2.5, [5,4], 14),
    hLine(solidLevel, '#111', 1, [], 14),
    lineDS(blueTrend, BLUE, 2.6, [], 12),
    lineDS(redTrendLow, RED, 2.4, [], 12),
    lineDS(redTrendMid, RED, 2.4, [], 12),
    lineDS(redTrendUpper, RED, 2.4, [], 12),
    lineDS(redDashedTrend, RED, 2, [4,3], 12),
    lineDS(blackThinUpper, '#222', 1, [], 12),
    lineDS(blackThinLower, '#222', 1, [], 12),
    lineDS(blackThick, '#111', 2.8, [], 12),
    {type:'line', data:pts(priceSeries), borderColor:'#000', borderWidth:2, pointRadius:0, tension:0, fill:false, order:1}
  ]},
  options:{
    responsive:false, animation:false, events:[],
    layout:{padding:{top:207,bottom:8,left:0,right:0}},
    plugins:{legend:{display:false}, tooltip:{enabled:false}},
    scales:{
      x:xScaleCfg(true,15),
      y:{position:'right', min:10119, max:17444,
        afterBuildTicks:s=>{ s.ticks=priceTicks.map(v=>({value:v})); },
        afterFit:s=>{ s.width=49; },
        ticks:{color:'#000', font:{size:11}, padding:3, callback:v=>String(v)},
        grid:{color:GRID, tickLength:3, tickColor:'#a89a86'}, border:{color:'#a89a86'}},
      yv:{position:'left', min:0, max:volMax,
        afterBuildTicks:s=>{ s.ticks=volumeTicks.map(v=>({value:v})); },
        afterFit:s=>{ s.width=47; },
        ticks:{color:'#000', font:{size:10.5}, padding:2, callback:v=>v+'M'},
        grid:{display:false, drawOnChartArea:false}, border:{display:false}}
    }
  },
  plugins:[mainDeco]
});

// ---------------- RSI PANEL ----------------
const rsiDeco = {
  id:'rsiDeco',
  beforeDraw(chart){ panelBG(chart, [[0,'#d5b080'],[1,'#e6cc9e']]); },
  beforeDatasetsDraw(chart){
    const {ctx, chartArea:a, scales:{y}}=chart;
    ctx.save();
    rsiLevels.forEach(l=>{
      const py=Math.round(y.getPixelForValue(l))+0.5;
      ctx.beginPath(); ctx.moveTo(a.left,py); ctx.lineTo(a.right,py);
      ctx.strokeStyle='#7f7f7f'; ctx.lineWidth=1; ctx.setLineDash(l===50?[8,3,2,3]:[]); ctx.stroke();
    });
    ctx.restore();
  },
  afterDatasetsDraw(chart){
    const {ctx, scales:{x,y}}=chart;
    const cx=x.getPixelForValue(toT(rsiMark[0])), cy=y.getPixelForValue(rsiMark[1]);
    ctx.save();
    ctx.beginPath(); ctx.ellipse(cx,cy,15,11,0,0,Math.PI*2); ctx.fillStyle='rgb(222,72,112)'; ctx.fill();
    ctx.beginPath(); ctx.moveTo(cx-2,y.getPixelForValue(31)); ctx.lineTo(cx-2,y.getPixelForValue(17));
    ctx.strokeStyle='#30e0e8'; ctx.lineWidth=3; ctx.stroke();
    ctx.restore();
  },
  afterDraw(chart){
    panelBorder(chart);
    const {ctx, chartArea:a, scales:{y}}=chart;
    valueBox(ctx, a.right+1, y.getPixelForValue(lastRsi), lastRsi.toFixed(2), '#000', false, 10.5);
  }
};
new Chart(document.getElementById('rsi'), {
  type:'line',
  data:{datasets:[
    lineDS(rsiTrend, '#222', 1, [4,3], 5),
    {type:'line', data:pts(rsiSeries), borderColor:'#000', borderWidth:1.3, pointRadius:0, tension:0, order:1,
     fill:{target:{value:70}, above:'rgba(95,125,60,0.85)', below:'rgba(0,0,0,0)'}}
  ]},
  options:{
    responsive:false, animation:false, events:[],
    layout:{padding:{top:30,bottom:3,left:47,right:0}},
    plugins:{legend:{display:false}, tooltip:{enabled:false}},
    scales:{
      x:xScaleCfg(false,0),
      y:{position:'right', min:-4, max:104,
        afterBuildTicks:s=>{ s.ticks=rsiTicks.map(v=>({value:v})); },
        afterFit:s=>{ s.width=49; },
        ticks:{color:'#000', font:{size:11}, padding:3},
        grid:{color:c=>(c.tick && (c.tick.value===10||c.tick.value===90))?GRID:'rgba(0,0,0,0)', tickLength:3, tickColor:'#a89a86'}, border:{color:'#a89a86'}}
    }
  },
  plugins:[rsiDeco]
});

// ---------------- MACD PANEL ----------------
const macdDeco = {
  id:'macdDeco',
  beforeDraw(chart){ panelBG(chart, [[0,'#e3c99c'],[1,'#d2a876']]); },
  afterDatasetsDraw(chart){
    const {ctx, scales:{x,y}}=chart;
    const cx=x.getPixelForValue(toT(macdMark[0])), cy=y.getPixelForValue(macdMark[1]);
    ctx.save();
    ctx.beginPath(); ctx.ellipse(cx,cy,15,12.5,0,0,Math.PI*2); ctx.fillStyle='rgb(222,72,112)'; ctx.fill();
    ctx.beginPath(); ctx.moveTo(cx-3,cy-12); ctx.lineTo(cx+1,cy+11); ctx.lineTo(cx+6,cy-10);
    ctx.strokeStyle='#30e0e8'; ctx.lineWidth=2.5; ctx.stroke();
    ctx.restore();
  },
  afterDraw(chart){
    panelBorder(chart);
    const {ctx, chartArea:a, scales:{y}}=chart;
    valueBox(ctx, a.right+1, y.getPixelForValue(lastSignal)+4, lastSignal.toFixed(3), '#e00000', false, 10.5);
    valueBox(ctx, a.right+1, y.getPixelForValue(lastMacd), lastMacd.toFixed(3), '#000', false, 10.5);
    valueBox(ctx, a.right+1, y.getPixelForValue(lastHist), lastHist.toFixed(3), '#2a5a8a', false, 10.5);
  }
};
new Chart(document.getElementById('macd'), {
  type:'line',
  data:{datasets:[
    {type:'line', data:pts(histSeries), borderColor:'rgba(40,105,145,1)', borderWidth:1, backgroundColor:'rgba(40,105,145,0.95)', fill:'origin', pointRadius:0, tension:0, order:5},
    {type:'line', data:pts(signalSeries), borderColor:'#e60000', borderWidth:1.5, pointRadius:0, tension:0.2, fill:false, order:3},
    {type:'line', data:pts(macdSeries), borderColor:'#000', borderWidth:2.2, pointRadius:0, tension:0.2, fill:false, order:2}
  ]},
  options:{
    responsive:false, animation:false, events:[],
    layout:{padding:{top:2,bottom:2,left:47,right:0}},
    plugins:{legend:{display:false}, tooltip:{enabled:false}},
    scales:{
      x:xScaleCfg(true,15),
      y:{position:'right', min:-326, max:193,
        afterBuildTicks:s=>{ s.ticks=macdTicks.map(v=>({value:v})); },
        afterFit:s=>{ s.width=49; },
        ticks:{color:'#000', font:{size:11}, padding:3},
        grid:{color:GRID, tickLength:3, tickColor:'#a89a86'}, border:{color:'#a89a86'}}
    }
  },
  plugins:[macdDeco]
});
</script>
</body>
</html>
